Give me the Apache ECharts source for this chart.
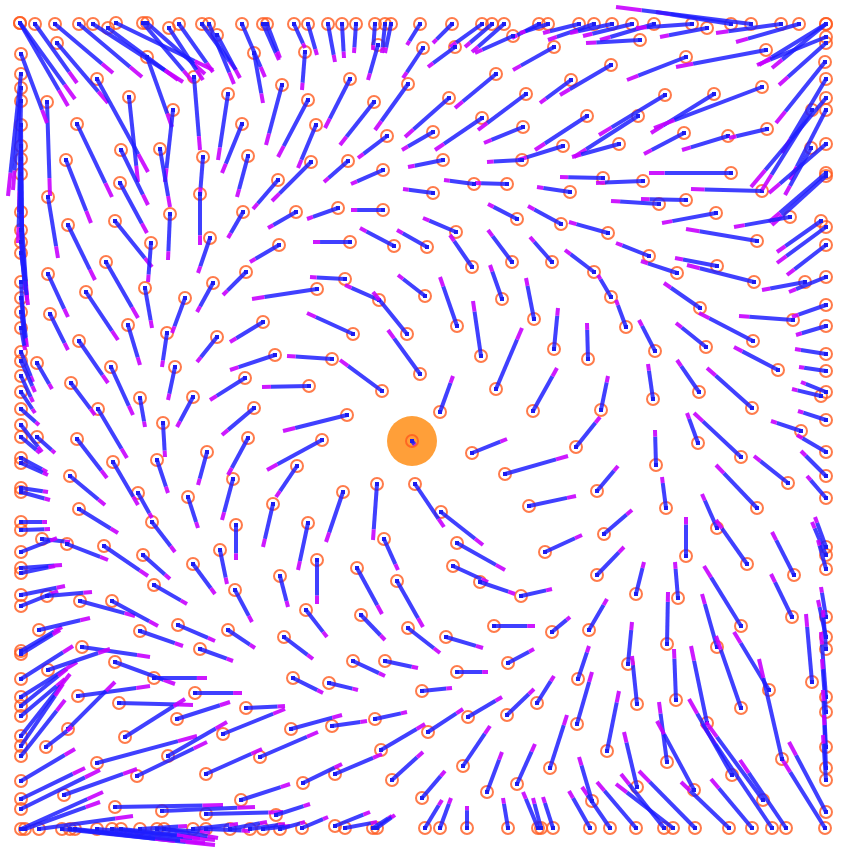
<!DOCTYPE html>
<html><head><meta charset="utf-8">
<script src="https://cdn.jsdelivr.net/npm/echarts@6/dist/echarts.min.js"></script>
<style>html,body{margin:0;padding:0;background:#fff}#c{width:854px;height:854px}</style>
</head><body><div id="c"></div>
<script>
// each arrow: [nodeX, nodeY, tipX, tipY]
const topRow = [
[20,23,68,106],[20,23,75,99],[35,24,77,83],[55,24,113,73],[79,24,142,77],[93,24,183,82],[108,28,178,80],[116,23,213,70],[143,23,193,82],[147,23,205,74],[169,28,203,80],[179,24,213,72],[202,24,236,70],[209,24,234,84],[217,35,240,78],[242,24,265,77],[263,24,279,60],[267,24,280,58],
[294,24,305,48],[308,24,317,55],[328,24,335,62],[342,24,344,58],[356,24,354,53],[375,24,373,50],[385,24,382,53],[391,24,385,53],[420,24,407,45],[452,24,433,43],[482,24,450,47],[492,24,465,47],[504,24,472,52],[539,24,512,38],[548,24,520,33],[579,24,543,33],[594,24,548,40],[612,24,570,33],[632,24,583,36],[654,24,600,40],[692,24,636,28],[707,28,660,37],[731,24,656,12],[751,24,616,7],[781,24,716,33],[799,24,736,42],[826,24,772,68],[826,24,759,65]
];
const upperLeft = [
[57,43,108,103],[147,57,172,127],[194,77,200,150],[254,53,263,103],[282,85,266,145],[47,102,50,196],[97,79,148,172],[129,97,138,182],[173,110,165,182],[228,94,218,160],[242,124,222,173],[77,124,112,197],[121,150,148,205],[160,149,170,207],[203,157,200,195],[248,156,237,197],[66,160,91,223],[278,180,253,209],[120,183,147,233],[200,194,200,245],[48,197,58,258],[243,212,228,238],[170,214,168,260],[68,225,95,280],[115,221,152,267],[210,238,198,273],[279,245,250,262],[151,243,148,282],[106,262,138,318],[48,274,68,317],[246,272,223,295],[213,283,197,312]
];
const upperMiddle = [
[305,52,302,90],[378,45,368,80],[513,36,475,53],[455,47,428,67],[423,48,403,78],[554,47,513,70],[496,74,455,108],[526,94,478,130],[350,79,325,128],[408,84,375,130],[449,98,405,137],[374,102,340,145],[308,100,278,157],[316,125,298,168],[482,118,435,150],[433,132,402,150],[387,136,358,158],[523,127,484,143],[563,146,518,160],[587,116,535,150],[522,160,487,162],[443,160,408,167],[348,161,324,182],[311,162,272,201],[383,170,351,184],[507,184,475,183],[474,184,444,180],[433,193,403,189],[570,192,537,187],[383,210,351,210],[338,208,307,219],[296,212,268,228],[350,242,313,242],[394,246,360,228],[427,247,397,230],[517,219,488,204],[561,224,528,206],[456,232,423,218],[472,267,450,235],[512,262,488,230],[552,262,530,237],[345,279,310,277]
];
const upperRight = [
[611,65,560,95],[571,80,540,103],[640,40,586,43],[766,50,676,67],[686,57,627,80],[665,95,599,135],[714,94,651,133],[762,87,654,128],[638,116,574,157],[684,133,644,154],[728,136,682,150],[767,129,729,138],[619,144,572,157],[731,173,649,173],[643,181,596,183],[603,178,560,177],[686,200,641,199],[659,204,611,201],[762,191,691,189],[716,213,662,223],[757,241,686,229],[608,233,569,222],[649,256,616,243],[594,272,565,250],[717,266,675,258],[677,273,641,261],[754,282,687,265],[805,282,762,290]
];
const rightEdge = [
[826,37,757,65],[826,43,779,85],[825,62,776,123],[826,79,782,153],[826,98,751,187],[826,110,790,180],[812,110,762,190],[826,144,769,193],[811,148,785,195],[826,173,769,222],[826,176,772,225],[790,217,734,227],[821,221,777,252],[826,227,777,263],[826,245,787,275],[826,277,789,292],[826,305,792,317],[826,326,796,335],[826,354,795,349],[826,371,799,367],[826,392,801,382],[821,396,792,389],[826,420,798,411],[826,452,797,435],[826,476,801,451],[826,498,807,476],[826,547,815,517],[826,555,812,522],[826,569,818,540],[826,617,821,587],[826,637,818,600],[826,649,823,610],[826,697,821,632],[826,712,822,659],[826,747,823,690],[826,768,824,715],[826,780,823,735],[826,812,789,742],[825,828,782,759]
];
const middleRight = [
[611,297,598,275],[700,308,664,283],[753,341,699,313],[626,327,616,300],[588,359,587,323],[655,351,639,320],[706,347,676,323],[778,370,734,347],[793,320,739,316],[801,431,771,421],[653,399,648,364],[699,392,677,360],[752,408,707,368],[601,410,608,376],[576,447,600,417],[698,443,687,413],[741,457,694,413],[788,483,754,456],[656,465,655,430],[757,508,716,465],[597,491,618,466],[666,508,662,477],[717,528,702,494],[604,534,632,510],[686,556,686,517],[747,564,716,520],[597,575,624,547]
];
const centre = [
[317,289,252,299],[379,300,345,285],[425,296,398,275],[353,334,307,313],[407,334,373,292],[457,326,440,277],[502,299,490,265],[534,319,526,278],[332,359,287,356],[420,374,388,330],[481,356,473,301],[554,349,558,308],[309,386,262,387],[382,391,340,360],[496,389,522,328],[440,412,453,376],[533,411,557,368],[347,415,283,431],[412,441,415,445],[472,453,507,439],[322,440,267,470],[297,466,276,497],[505,474,568,456],[529,506,576,496],[377,484,373,540],[343,492,326,542],[415,484,444,527],[441,512,483,545],[308,523,298,570],[384,539,398,570],[457,543,505,570],[545,552,582,535],[317,560,317,604],[357,568,382,614],[453,566,488,582]
];
const middleLeft = [
[50,314,68,350],[86,292,118,340],[145,288,152,328],[79,341,108,383],[128,325,140,365],[167,333,162,367],[185,298,172,333],[217,337,197,362],[263,322,230,342],[275,355,230,370],[245,378,210,400],[37,363,52,389],[71,383,95,415],[111,367,133,415],[140,398,145,427],[175,367,168,400],[193,397,177,427],[98,409,127,458],[163,423,165,457],[254,408,222,435],[248,438,228,475],[77,439,107,478],[207,452,198,485],[113,462,138,505],[157,460,168,493],[233,479,222,520],[70,476,105,505],[188,497,198,528],[273,504,263,547],[138,493,152,518],[79,509,118,533],[152,522,175,552],[236,525,236,560],[104,546,148,576],[143,555,170,579],[193,564,215,594],[220,550,227,584],[42,539,70,542],[67,544,108,560]
];
const leftEdge = [
[21,54,47,123],[21,74,8,196],[21,88,13,190],[21,101,19,212],[21,125,22,235],[21,146,22,258],[21,159,18,243],[21,174,22,255],[21,212,27,298],[21,230,27,300],[21,242,25,290],[21,253,28,305],[21,282,25,347],[21,298,27,347],[21,312,26,345],[21,328,25,350],[21,352,33,382],[21,361,35,392],[21,376,33,402],[21,392,35,413],[21,409,39,425],[21,425,42,452],[21,437,40,453],[37,437,55,453],[21,458,47,472],[21,463,48,475],[21,488,48,492],[21,492,50,500],[21,522,47,522],[21,530,50,529],[21,552,57,538],[21,568,62,565],[21,573,55,566],[21,595,65,586],[21,606,58,591],[21,651,62,627],[21,654,60,630],[21,679,73,646],[21,697,77,662],[21,706,67,669],[21,716,65,679],[21,736,70,674],[21,746,63,684],[21,756,65,700],[21,781,75,749],[21,799,85,768],[21,809,100,770]
];
const lowerLeft = [
[280,576,288,607],[235,590,252,622],[154,585,187,604],[47,596,92,592],[80,601,135,616],[112,601,158,626],[39,630,90,618],[82,647,150,657],[140,631,183,646],[178,625,215,641],[228,630,255,648],[200,649,233,661],[115,662,175,684],[154,678,207,678],[48,670,110,649],[78,696,150,686],[119,703,193,705],[195,693,242,693],[246,708,285,706],[177,719,230,702],[68,729,115,682],[125,737,185,699],[223,734,285,709],[46,747,72,727],[97,763,197,736],[168,756,227,722],[137,776,207,742],[206,774,262,749],[260,757,318,732],[64,795,137,769],[115,807,223,805],[162,811,255,807],[206,814,283,812],[241,800,290,784],[276,815,310,804],[284,637,313,659]
];
const bottomRow = [
[21,829,103,792],[25,829,100,802],[39,829,133,816],[62,829,215,845],[70,829,175,841],[75,829,205,843],[97,829,215,840],[112,829,200,838],[121,829,190,836],[140,829,187,826],[157,829,210,832],[164,829,218,838],[193,829,238,824],[206,829,250,831],[230,829,267,822],[250,829,285,824],[263,829,290,826],[280,829,305,822],[302,828,328,817],[335,826,370,812],[345,828,377,822],[373,828,392,816],[377,828,395,815],[425,828,442,800],[440,828,451,798],[467,828,467,806],[508,828,503,798],[538,828,523,792],[541,828,533,798],[553,828,543,797],[590,828,569,791],[610,828,582,787],[636,828,597,782],[664,828,621,774],[673,828,616,784],[695,828,639,771],[729,828,681,782],[752,828,711,779],[772,828,702,724],[786,828,740,760]
];
const lowerMiddle = [
[397,581,423,627],[306,610,327,637],[361,615,385,640],[408,628,440,653],[446,637,483,648],[480,582,515,594],[521,596,552,589],[494,626,535,626],[552,632,570,617],[353,661,385,676],[385,661,418,668],[457,672,488,672],[508,663,534,649],[293,678,323,693],[329,683,358,690],[422,691,452,688],[537,703,554,676],[507,715,534,689],[468,717,502,697],[375,719,407,712],[332,726,367,721],[291,729,342,715],[428,732,463,709],[381,750,425,724],[463,766,490,726],[550,768,567,715],[517,784,535,744],[487,792,502,752],[392,780,423,752],[422,798,445,771],[335,774,382,754],[303,783,342,764]
];
const lowerRight = [
[636,594,644,562],[678,598,675,562],[794,575,772,532],[589,630,607,599],[667,644,668,592],[741,626,704,566],[792,617,771,574],[717,647,702,594],[578,679,589,646],[628,664,632,622],[637,704,632,656],[676,700,674,649],[741,708,716,636],[769,690,734,632],[812,682,806,614],[707,723,691,646],[577,724,592,672],[607,751,619,691],[667,762,659,702],[732,775,689,699],[782,759,759,659],[592,801,579,757],[637,787,624,732],[694,790,657,721],[763,800,706,722]
];
const hub = [[412,441]];

const arrows = [].concat(topRow, upperLeft, upperMiddle, upperRight, rightEdge, middleRight, centre, middleLeft, leftEdge, lowerLeft, bottomRow, lowerMiddle, lowerRight);
const nodes = arrows.map(a => [a[0], a[1]]);

const chart = echarts.init(document.getElementById('c'));
chart.setOption({
  animation: false,
  grid: {left: 0, right: 0, top: 0, bottom: 0},
  xAxis: {type: 'value', min: 0, max: 854, show: false},
  yAxis: {type: 'value', min: 0, max: 854, inverse: true, show: false},
  series: [
    {type: 'scatter', data: hub, symbolSize: 50, silent: true, z: 1,
     itemStyle: {color: '#ff9a2e', opacity: 0.95}},
    {type: 'scatter', data: nodes, symbolSize: 12, silent: true, z: 2,
     itemStyle: {color: 'rgba(255,255,255,0)', borderColor: '#ff5a1e', borderWidth: 2}},
    {type: 'custom', data: arrows, silent: true, z: 3,
     encode: {x: [0, 2], y: [1, 3]},
     renderItem: function (params, api) {
       const p0 = api.coord([api.value(0), api.value(1)]);
       const p1 = api.coord([api.value(2), api.value(3)]);
       const t = 0.81;
       const pm = [p0[0] + (p1[0] - p0[0]) * t, p0[1] + (p1[1] - p0[1]) * t];
       return {type: 'group', children: [
         {type: 'line', shape: {x1: p0[0], y1: p0[1], x2: pm[0], y2: pm[1]},
          style: {stroke: 'rgba(30,30,255,0.85)', lineWidth: 4}},
         {type: 'line', shape: {x1: pm[0], y1: pm[1], x2: p1[0], y2: p1[1]},
          style: {stroke: 'rgba(200,0,255,0.9)', lineWidth: 4}},
         {type: 'rect', shape: {x: p0[0] - 2, y: p0[1] - 2, width: 4, height: 4},
          style: {fill: '#1c1cf0'}}
       ]};
     }}
  ]
});
</script>
</body></html>
